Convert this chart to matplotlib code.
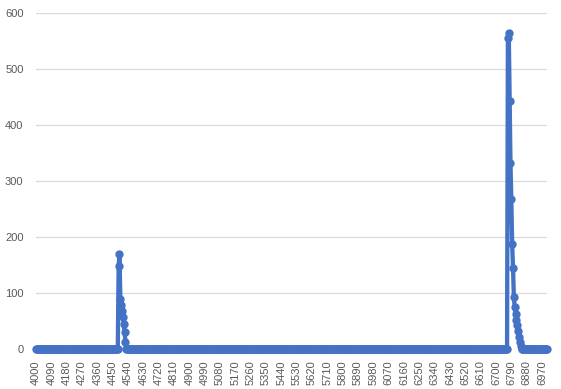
import numpy as np
import matplotlib
matplotlib.use("Agg")
import matplotlib.pyplot as plt

# categories 4000..7000 step 5, mostly zero with two peaks
categories = list(range(4000, 7001, 5))

peak1_start = 4485
peak1_values = [148, 170, 90, 78, 67, 58, 45, 30, 12]

peak2_start = 6770
peak2_values = [555, 565, 443, 333, 267, 187, 145, 92, 75, 62, 52, 42, 32, 22, 12, 5]

label_step = 18  # every 90 in the category axis
y_ticks = [0, 100, 200, 300, 400, 500, 600]

values = np.zeros(len(categories))
for start, vals in [(peak1_start, peak1_values), (peak2_start, peak2_values)]:
    i0 = categories.index(start)
    values[i0:i0 + len(vals)] = vals

blue = "#4472C4"
grey_txt = "#595959"

fig = plt.figure(figsize=(5.61, 3.89), dpi=100)
ax = fig.add_axes([0.0642, 0.1028, 0.911, 0.8638])

x = np.arange(len(categories))
ax.plot(x, values, color=blue, lw=3.1, marker="o", ms=5.0, clip_on=False,
        solid_capstyle="round", solid_joinstyle="round", zorder=3)

ax.set_xlim(0, len(categories) - 1)
ax.set_ylim(0, 600)
ax.set_yticks(y_ticks)
ax.grid(axis="y", color="#D9D9D9", lw=0.9)
ax.set_axisbelow(True)

ticks = x[::label_step]
ax.set_xticks(ticks)
ax.set_xticklabels([str(categories[i]) for i in ticks], rotation=90)

for s in ax.spines.values():
    s.set_visible(False)
ax.tick_params(axis="both", length=0, colors=grey_txt, labelsize=8)
ax.tick_params(axis="y", pad=9)
ax.tick_params(axis="x", pad=8)
for lab in ax.get_xticklabels() + ax.get_yticklabels():
    lab.set_fontfamily("Liberation Sans")

fig.savefig("out.png", dpi=100)
